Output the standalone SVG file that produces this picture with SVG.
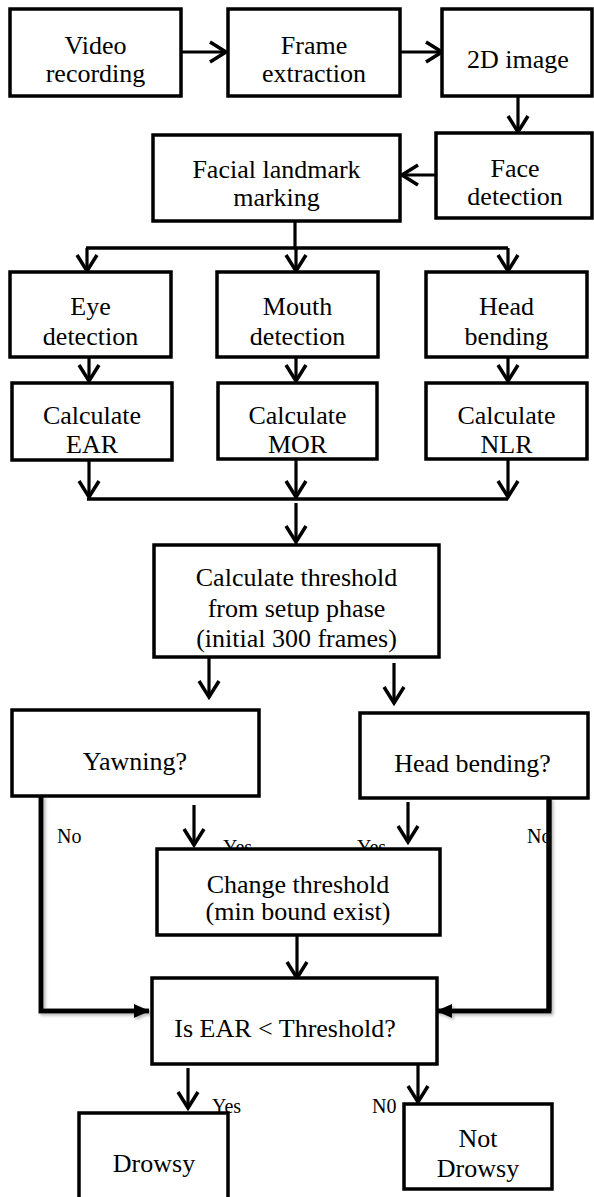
<svg xmlns="http://www.w3.org/2000/svg" width="594" height="1197" viewBox="0 0 594 1197">
<style>
.box{fill:#fff;stroke:#000;stroke-width:3.5}
.t{font-family:'Liberation Serif',Tinos,'Times New Roman',Times,'DejaVu Serif',serif;font-size:26px;text-anchor:middle;fill:#000}
.s{font-family:'Liberation Serif',Tinos,'Times New Roman',Times,'DejaVu Serif',serif;font-size:20px;fill:#000}
.c{stroke:#000;stroke-width:3.2;fill:none}
.k{stroke:#000;stroke-width:5;fill:none;filter:url(#sh)}
</style>
<defs>
<marker id="a" viewBox="0 0 22 24" refX="19" refY="12" markerWidth="22" markerHeight="24" markerUnits="userSpaceOnUse" orient="auto">
<path d="M3,2 L19,12 L3,22" fill="none" stroke="#000" stroke-width="3.5"/>
</marker>
<marker id="f" viewBox="0 0 16 16" refX="15" refY="8" markerWidth="16" markerHeight="16" markerUnits="userSpaceOnUse" orient="auto">
<path d="M0,1 L16,8 L0,15 Z" fill="#000"/>
</marker>
<filter id="sh" x="-20%" y="-20%" width="140%" height="140%">
<feDropShadow dx="2" dy="2" stdDeviation="1.5" flood-color="#888" flood-opacity="0.6"/>
</filter>
</defs>

<g id="connectors">
<line class="c" x1="181" y1="52" x2="226" y2="52" marker-end="url(#a)"/>
<line class="c" x1="400" y1="52" x2="442" y2="52" marker-end="url(#a)"/>
<line class="c" x1="518" y1="96" x2="518" y2="132" marker-end="url(#a)"/>
<line class="c" x1="436" y1="175" x2="402" y2="175" marker-end="url(#a)"/>
<line class="c" x1="295" y1="221" x2="295" y2="248"/>
<line class="c" x1="86" y1="248" x2="508" y2="248" style="stroke-width:3.5"/>
<line class="c" x1="87" y1="248" x2="87" y2="271" marker-end="url(#a)"/>
<line class="c" x1="296" y1="248" x2="296" y2="271" marker-end="url(#a)"/>
<line class="c" x1="508" y1="248" x2="508" y2="271" marker-end="url(#a)"/>
<line class="c" x1="89" y1="357" x2="89" y2="381" marker-end="url(#a)"/>
<line class="c" x1="296" y1="357" x2="296" y2="381" marker-end="url(#a)"/>
<line class="c" x1="508" y1="357" x2="508" y2="381" marker-end="url(#a)"/>
<line class="c" x1="89" y1="460" x2="89" y2="497" marker-end="url(#a)"/>
<line class="c" x1="296" y1="460" x2="296" y2="497" marker-end="url(#a)"/>
<line class="c" x1="508" y1="460" x2="508" y2="497" marker-end="url(#a)"/>
<line class="c" x1="87" y1="499" x2="508" y2="499" style="stroke-width:3.5"/>
<line class="c" x1="296" y1="503" x2="296" y2="542" marker-end="url(#a)"/>
<line class="c" x1="209" y1="657" x2="209" y2="697" marker-end="url(#a)"/>
<line class="c" x1="394" y1="663" x2="394" y2="703" marker-end="url(#a)"/>
<line class="c" x1="194" y1="805" x2="194" y2="845" marker-end="url(#a)"/>
<line class="c" x1="408" y1="802" x2="408" y2="842" marker-end="url(#a)"/>
<line class="c" x1="297" y1="936" x2="297" y2="978" marker-end="url(#a)"/>
<line class="c" x1="188" y1="1068" x2="188" y2="1108" marker-end="url(#a)"/>
<line class="c" x1="418" y1="1064" x2="418" y2="1102" marker-end="url(#a)"/>
<polyline class="k" points="41,796 41,1011 149,1011" marker-end="url(#f)"/>
<polyline class="k" points="549,798 549,1011 437,1011" marker-end="url(#f)"/>
</g>

<g id="labels">
<text class="s" x="57" y="843">No</text>
<text class="s" x="527" y="843">No</text>
<text class="s" x="223" y="854">Yes</text>
<text class="s" x="357" y="854">Yes</text>
<text class="s" x="212" y="1113">Yes</text>
<text class="s" x="372" y="1113">N0</text>
</g>
<line x1="549" y1="800" x2="549" y2="1011" stroke="#000" stroke-width="5"/>

<g id="video"><rect class="box" x="10" y="9" width="171" height="87"/><text class="t" x="95.5" y="54">Video</text><text class="t" x="95.5" y="82">recording</text></g>
<g id="frame"><rect class="box" x="228" y="9" width="172" height="87"/><text class="t" x="314" y="54">Frame</text><text class="t" x="314" y="82">extraction</text></g>
<g id="img2d"><rect class="box" x="442" y="9" width="150" height="87"/><text class="t" x="518" y="68">2D image</text></g>
<g id="face"><rect class="box" x="436" y="133" width="156" height="85"/><text class="t" x="515" y="177">Face</text><text class="t" x="515" y="205">detection</text></g>
<g id="landmark"><rect class="box" x="153" y="135" width="247" height="86"/><text class="t" x="276.5" y="178">Facial landmark</text><text class="t" x="276.5" y="206">marking</text></g>
<g id="eye"><rect class="box" x="10" y="272" width="161" height="85"/><text class="t" x="90.5" y="315">Eye</text><text class="t" x="90.5" y="345">detection</text></g>
<g id="mouth"><rect class="box" x="217" y="272" width="161" height="85"/><text class="t" x="297.5" y="315">Mouth</text><text class="t" x="297.5" y="345">detection</text></g>
<g id="head"><rect class="box" x="426" y="272" width="161" height="85"/><text class="t" x="506.5" y="315">Head</text><text class="t" x="506.5" y="345">bending</text></g>
<g id="ear"><rect class="box" x="12" y="383" width="160" height="77"/><text class="t" x="92" y="424">Calculate</text><text class="t" x="92" y="453">EAR</text></g>
<g id="mor"><rect class="box" x="218" y="383" width="159" height="76"/><text class="t" x="297.5" y="424">Calculate</text><text class="t" x="297.5" y="453">MOR</text></g>
<g id="nlr"><rect class="box" x="426" y="383" width="161" height="76"/><text class="t" x="506.5" y="424">Calculate</text><text class="t" x="506.5" y="453">NLR</text></g>
<g id="threshold"><rect class="box" x="154" y="545" width="285" height="112"/><text class="t" x="296.5" y="586">Calculate threshold</text><text class="t" x="296.5" y="617">from setup phase</text><text class="t" x="296.5" y="647">(initial 300 frames)</text></g>
<g id="yawning"><rect class="box" x="12" y="710" width="247" height="86"/><text class="t" x="135" y="770">Yawning?</text></g>
<g id="headq"><rect class="box" x="360" y="713" width="228" height="85"/><text class="t" x="472.5" y="772">Head bending?</text></g>
<g id="change"><rect class="box" x="157" y="849" width="283" height="86"/><text class="t" x="298" y="893">Change threshold</text><text class="t" x="298" y="920">(min bound exist)</text></g>
<g id="earq"><rect class="box" x="152" y="978" width="285" height="86"/><text class="t" x="285" y="1037">Is EAR &lt; Threshold?</text></g>
<g id="drowsy"><rect class="box" x="79" y="1113" width="149" height="100"/><text class="t" x="154" y="1172">Drowsy</text></g>
<g id="notdrowsy"><rect class="box" x="404" y="1104" width="148" height="85"/><text class="t" x="478" y="1147">Not</text><text class="t" x="478" y="1177">Drowsy</text></g>
</svg>
